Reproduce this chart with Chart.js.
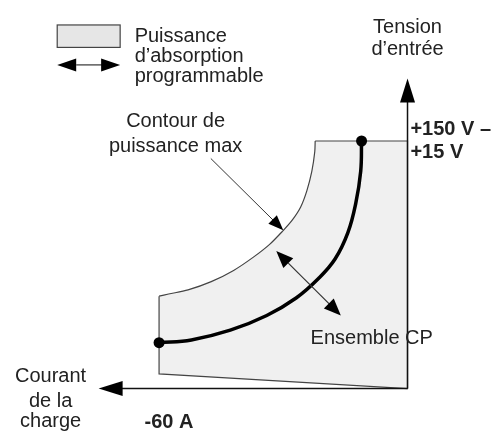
<!DOCTYPE html>
<html>
<head>
<meta charset="utf-8">
<script src="https://cdn.jsdelivr.net/npm/chart.js@4/dist/chart.umd.min.js"></script>
<style>
  html, body { margin: 0; padding: 0; background: #fff; }
  canvas { display: block; }
</style>
</head>
<body>
<canvas id="diagram" width="503" height="437"></canvas>
<script>
// Valeurs (courant en A, tension en V)
const contourI = [-22.3, -22.4, -23.1, -24.3, -25.8, -27.8, -30.2, -33.3, -37.3, -42.0, -47.4, -53.0, -57.7, -60];
const contourV = [150, 143.5, 131.7, 119.9, 110.0, 102.2, 95.3, 87.4, 79.5, 71.6, 64.8, 59.8, 57.3, 56.0];

// bords droits de la zone programmable
const edgeI = [-22.3, 0, 0, -60, -60];
const edgeV = [150, 150, 0, 8.9, 56.0];

// courbe "Ensemble CP"
const cpI = [-11.1, -11.3, -12.5, -14.4, -17.5, -21.5, -26.9, -34.0, -42.8, -52.2, -60];
const cpV = [150, 131.7, 112.2, 94.5, 78.5, 66.7, 54.9, 44.3, 35.4, 29.5, 27.8];

// textes
const labelsText = [
    { text: 'Puissance', i: -65.9, v: 210.2, align: 'left' },
    { text: 'd\u2019absorption', i: -65.9, v: 197.8, align: 'left' },
    { text: 'programmable', i: -65.9, v: 185.8, align: 'left' },
    { text: 'Contour de', i: -56.0, v: 158.3, align: 'center' },
    { text: 'puissance max', i: -56.0, v: 143.5, align: 'center' },
    { text: 'Tension', i: 0, v: 215.6, align: 'center' },
    { text: 'd\u2019entr\u00e9e', i: 0, v: 202.0, align: 'center' },
    { text: '+150 V \u2013', i: 0.7, v: 153.5, align: 'left', bold: true },
    { text: '+15 V', i: 0.7, v: 139.4, align: 'left', bold: true },
    { text: 'Ensemble CP', i: -23.4, v: 27.2, align: 'left' },
    { text: 'Courant', i: -86.2, v: 4.1, align: 'center' },
    { text: 'de la', i: -86.2, v: -11.0, align: 'center' },
    { text: 'charge', i: -86.2, v: -23.2, align: 'center' },
    { text: '-60 A', i: -63.5, v: -23.6, align: 'left', bold: true }
];

// flèches : [i1, v1, i2, v2]
const axisArrows = [
    [0, 0, 0, 187.8],
    [0, 0, -74.6, 0]
];
const pointerArrow = [-47.5, 139.4, -30.0, 96.0];
const cpArrow = [-31.7, 83.3, -16.1, 44.3];
const legendArrow = [-84.6, 196.1, -69.4, 196.1];
const legendBox = [-84.6, 220.3, -69.4, 206.7];

const FONT = '"Liberation Sans", Arial, sans-serif';

// polygone de la zone grise : bords droits puis contour en sens inverse
const regionPoints = edgeI.map((x, k) => ({ x: x, y: edgeV[k] }))
    .concat(contourI.map((x, k) => ({ x: x, y: contourV[k] })).reverse());

function pts(xs, ys) {
    return xs.map((x, k) => ({ x: x, y: ys[k] }));
}

function drawArrow(ctx, x1, y1, x2, y2, o) {
    const ang = Math.atan2(y2 - y1, x2 - x1);
    const c = Math.cos(ang), s = Math.sin(ang);
    let sx = x1, sy = y1, ex = x2 - c * o.len, ey = y2 - s * o.len;
    if (o.both) { sx = x1 + c * o.len; sy = y1 + s * o.len; }
    ctx.save();
    ctx.strokeStyle = o.color;
    ctx.fillStyle = '#000';
    ctx.lineWidth = o.width;
    ctx.beginPath();
    ctx.moveTo(sx, sy);
    ctx.lineTo(ex + c * 2, ey + s * 2);
    ctx.stroke();
    const head = (tx, ty, dc, ds) => {
        const bx = tx - dc * o.len, by = ty - ds * o.len;
        ctx.beginPath();
        ctx.moveTo(tx, ty);
        ctx.lineTo(bx - ds * o.half, by + dc * o.half);
        ctx.lineTo(bx + ds * o.half, by - dc * o.half);
        ctx.closePath();
        ctx.fill();
    };
    head(x2, y2, c, s);
    if (o.both) head(x1, y1, -c, -s);
    ctx.restore();
}

const decorPlugin = {
    id: 'decor',
    afterDatasetsDraw(chart) {
        const ctx = chart.ctx;
        const X = v => chart.scales.x.getPixelForValue(v);
        const Y = v => chart.scales.y.getPixelForValue(v);

        // case de légende
        ctx.save();
        ctx.fillStyle = '#e6e6e6';
        ctx.strokeStyle = '#444';
        ctx.lineWidth = 1.2;
        const bx = X(legendBox[0]), by = Y(legendBox[1]);
        const bw = X(legendBox[2]) - bx, bh = Y(legendBox[3]) - by;
        ctx.fillRect(bx, by, bw, bh);
        ctx.strokeRect(bx, by, bw, bh);
        ctx.restore();

        drawArrow(ctx, X(legendArrow[0]), Y(legendArrow[1]), X(legendArrow[2]), Y(legendArrow[3]),
            { both: true, len: 19, half: 6.5, width: 1.2, color: '#333' });

        axisArrows.forEach(a => {
            drawArrow(ctx, X(a[0]), Y(a[1]), X(a[2]), Y(a[3]),
                { len: 24, half: 7.5, width: 1.5, color: '#111' });
        });

        drawArrow(ctx, X(pointerArrow[0]), Y(pointerArrow[1]), X(pointerArrow[2]), Y(pointerArrow[3]),
            { len: 15, half: 6, width: 1, color: '#333' });
        drawArrow(ctx, X(cpArrow[0]), Y(cpArrow[1]), X(cpArrow[2]), Y(cpArrow[3]),
            { both: true, len: 17, half: 7, width: 1.2, color: '#333' });

        // textes
        ctx.save();
        ctx.fillStyle = '#222';
        ctx.textBaseline = 'alphabetic';
        labelsText.forEach(l => {
            ctx.font = (l.bold ? 'bold ' : '') + '20px ' + FONT;
            ctx.textAlign = l.align;
            ctx.fillText(l.text, X(l.i), Y(l.v));
        });
        ctx.restore();
    }
};

new Chart(document.getElementById('diagram'), {
    type: 'scatter',
    data: {
        datasets: [
            {
                // zone de puissance programmable (dessinée en premier)
                data: regionPoints,
                order: 10,
                showLine: true,
                fill: 'shape',
                backgroundColor: '#f0f0f0',
                borderWidth: 0,
                borderColor: 'rgba(0,0,0,0)',
                pointRadius: 0,
                tension: 0
            },
            {
                data: pts(contourI, contourV),
                order: 2,
                showLine: true,
                borderColor: '#444',
                borderWidth: 1.2,
                pointRadius: 0,
                tension: 0.3
            },
            {
                data: pts(edgeI, edgeV),
                order: 2,
                showLine: true,
                borderColor: '#444',
                borderWidth: 1.2,
                pointRadius: 0,
                tension: 0
            },
            {
                data: pts(cpI, cpV),
                order: 1,
                showLine: true,
                borderColor: '#000',
                borderWidth: 3.5,
                pointRadius: cpI.map((v, k) => (k === 0 || k === cpI.length - 1) ? 5.5 : 0),
                pointBackgroundColor: '#000',
                pointBorderWidth: 0,
                tension: 0.4
            }
        ]
    },
    options: {
        responsive: false,
        animation: false,
        layout: { padding: 0 },
        plugins: {
            legend: { display: false },
            tooltip: { enabled: false }
        },
        scales: {
            x: { type: 'linear', min: -97.087, max: 21.732, display: false },
            y: { type: 'linear', min: -25.984, max: 232.087, display: false }
        }
    },
    plugins: [decorPlugin]
});
</script>
</body>
</html>
